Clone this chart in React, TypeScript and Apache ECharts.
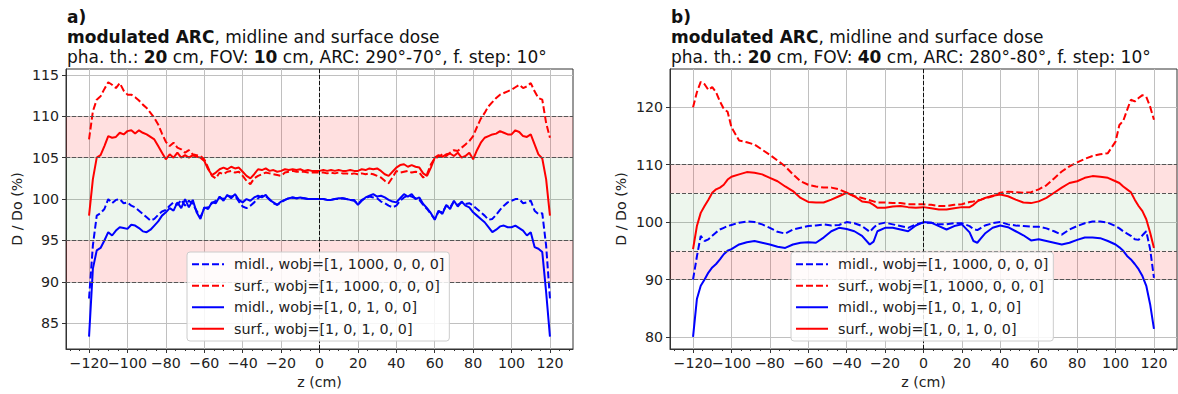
import React, { useEffect, useRef } from "react";
import * as echarts from "echarts";

const FONT = "DejaVu Sans";

// ---------- panel a) : z positions (cm) ----------
const zA = [
  -120, -118, -116, -114, -112, -110, -108, -106, -104, -102,
  -100, -98, -96, -94, -92, -90, -88, -86, -84, -82,
  -80, -78, -76, -74, -72, -70, -68, -66, -64, -62,
  -60, -58, -56, -54, -52, -50, -48, -46, -44, -42,
  -40, -38, -36, -34, -32, -30, -28, -26, -24, -22,
  -20, -18, -16, -14, -12, -10, -8, -6, -4, -2,
  0, 2, 4, 6, 8, 10, 12, 14, 16, 18,
  20, 22, 24, 26, 28, 30, 32, 34, 36, 38,
  40, 42, 44, 46, 48, 50, 52, 54, 56, 58,
  60, 62, 64, 66, 68, 70, 72, 74, 76, 78,
  80, 82, 84, 86, 88, 90, 92, 94, 96, 98,
  100, 102, 104, 106, 108, 110, 112, 114, 116, 118,
  120,
];

// midl., wobj=[1, 1000, 0, 0, 0]
const midDashA = [
  88.0, 94.4, 98.0, 98.3, 98.8, 100.0, 99.5, 99.9, 100.0, 99.5,
  99.6, 99.2, 99.0, 98.6, 98.2, 97.8, 97.4, 97.6, 98.1, 98.5,
  98.7, 99.2, 99.6, 99.3, 99.9, 99.2, 99.8, 99.4, 98.6, 97.8,
  98.9, 99.0, 99.5, 99.8, 100.2, 100.0, 100.4, 100.3, 100.4, 99.7,
  99.1, 98.9, 99.2, 99.6, 100.1, 100.4, 100.3, 100.0, 99.5, 99.3,
  99.6, 99.9, 100.1, 100.2, 100.1, 100.1, 100.1, 100.0, 100.0, 100.0,
  100.0, 100.0, 99.9, 99.9, 100.0, 100.0, 100.1, 100.0, 99.9, 99.8,
  99.4, 99.9, 100.1, 100.3, 100.2, 100.1, 99.7, 99.5, 99.2, 99.0,
  99.2, 99.8, 100.2, 100.4, 100.3, 100.1, 99.9, 99.3, 98.8, 98.2,
  97.6, 98.5, 98.4, 99.2, 99.0, 99.7, 99.3, 99.6, 99.4, 99.5,
  99.2, 98.8, 98.4, 98.0, 97.5, 97.6, 98.1, 98.7, 99.2, 99.6,
  99.8, 100.0, 100.0, 99.5, 99.6, 99.8, 98.6, 98.2, 98.3, 94.4,
  88.0,
];

// surf., wobj=[1, 1000, 0, 0, 0]
const surfDashA = [
  107.2, 110.6, 112.0, 112.4, 113.3, 114.1, 113.8, 113.4, 114.0, 113.1,
  112.6, 112.6, 112.3, 111.9, 111.4, 111.0, 110.4, 109.8, 109.0, 107.9,
  106.9, 106.4, 106.8, 106.2, 106.0, 105.6, 105.9, 105.4, 105.3, 105.2,
  104.8, 103.8, 102.8, 102.5, 103.2, 103.0, 103.3, 103.4, 103.2, 103.3,
  102.8, 102.2, 101.8, 102.5, 102.8, 103.0, 103.2, 103.1, 103.0, 102.9,
  102.8, 103.2, 103.3, 103.4, 103.3, 103.3, 103.3, 103.2, 103.2, 103.2,
  103.2, 103.2, 103.1, 103.2, 103.1, 103.2, 103.1, 103.1, 103.0, 103.1,
  103.0, 103.1, 103.0, 103.1, 103.0, 102.8, 102.6, 102.2, 101.9, 102.6,
  103.4, 103.2, 103.3, 103.4, 103.2, 103.3, 103.2, 102.6, 103.0, 104.2,
  104.9, 105.1, 105.4, 105.2, 105.6, 105.9, 105.8, 106.2, 106.6, 107.0,
  107.6, 108.7, 109.7, 110.4, 111.2, 111.7, 112.2, 112.6, 112.8, 113.0,
  113.2, 113.5, 113.8, 113.4, 113.6, 114.0, 113.0, 112.2, 112.0, 109.2,
  107.4,
];

// midl., wobj=[1, 0, 1, 0, 0]
const midSolidA = [
  83.4, 91.6, 93.8, 94.1, 95.0, 96.0, 95.6, 96.2, 96.6, 96.5,
  96.4, 96.9, 96.8, 96.5, 96.1, 96.0, 96.3, 96.8, 97.3, 98.0,
  98.4, 98.9, 98.6, 99.6, 98.9, 100.0, 99.0, 99.9, 98.4, 97.6,
  99.0, 98.8, 99.6, 99.5, 100.3, 99.8, 100.5, 100.1, 100.6, 99.9,
  99.6, 100.0, 99.8, 100.2, 100.4, 100.2, 100.5, 99.9, 99.6, 99.3,
  99.7, 99.9, 100.1, 100.2, 100.1, 100.2, 100.1, 100.0, 100.0, 100.0,
  100.0, 100.0, 99.9, 99.9, 100.0, 100.1, 100.1, 100.0, 99.9, 99.9,
  99.3, 99.8, 100.2, 100.4, 100.6, 100.3, 100.4, 100.2, 99.9, 99.7,
  99.6, 100.1, 100.6, 100.3, 100.6, 100.0, 100.2, 99.4, 98.9, 98.3,
  97.5, 98.6, 98.2, 99.3, 98.8, 99.8, 99.1, 99.7, 99.2, 99.0,
  98.4, 98.0, 97.6, 97.2, 96.6, 96.0, 96.3, 96.7, 96.8, 96.6,
  96.6, 96.8, 96.5, 96.2, 95.6, 96.0, 94.2, 94.0, 93.6, 88.8,
  83.4,
];

// surf., wobj=[1, 0, 1, 0, 0]
const surfSolidA = [
  98.0, 102.4, 105.0, 105.3, 106.4, 107.6, 107.4, 107.5, 108.0, 107.8,
  108.2, 108.3, 107.9, 108.3, 108.0, 107.8, 107.5, 107.2, 106.4, 105.6,
  104.8, 105.4, 105.0, 105.6, 105.0, 105.3, 105.0, 105.3, 105.1, 105.0,
  104.6, 103.6, 102.9, 103.2, 103.6, 103.8, 103.6, 103.9, 103.7, 103.8,
  103.3, 102.8, 102.5, 103.0, 103.6, 103.5, 103.7, 103.4, 103.5, 103.3,
  103.4, 103.6, 103.5, 103.6, 103.5, 103.6, 103.4, 103.5, 103.4, 103.4,
  103.4, 103.5, 103.4, 103.5, 103.4, 103.5, 103.4, 103.4, 103.5, 103.4,
  103.4, 103.6, 103.5, 103.7, 103.6, 103.7, 103.4, 103.0, 102.8, 103.3,
  103.8, 104.1, 104.2, 103.9, 104.1, 103.9, 103.8, 103.1, 102.8, 103.8,
  105.0, 105.3, 105.1, 105.4, 105.5, 105.2, 105.6, 105.0, 105.2, 105.6,
  104.8, 105.9, 106.8, 107.4, 107.6, 107.8, 107.9, 108.2, 108.0, 107.8,
  107.8, 108.3, 108.1, 107.6, 107.5, 107.8, 106.6, 105.4, 104.9, 102.4,
  98.0,
];

// ---------- panel b) : z positions (cm) ----------
const zB = [
  -120, -118, -116, -114, -112, -110, -108, -106, -104, -102,
  -100, -96, -92, -88, -84, -80, -76, -72, -68, -64,
  -60, -56, -52, -48, -44, -40, -36, -32, -28, -26,
  -24, -20, -16, -12, -8, -4, 0, 4, 8, 12,
  16, 20, 24, 26, 28, 30, 32, 36, 40, 44,
  48, 52, 56, 60, 64, 68, 72, 76, 80, 84,
  88, 92, 96, 100, 102, 104, 106, 108, 110, 112,
  114, 116, 118, 120,
];

const midDashB = [
  90.0, 94.0, 97.6, 96.7, 97.0, 97.6, 98.2, 98.7, 99.0, 99.3,
  99.5, 99.9, 100.1, 100.0, 99.6, 99.0, 98.3, 98.0, 98.7, 99.0,
  99.3, 99.4, 99.6, 99.4, 99.5, 100.0, 99.8, 99.3, 98.3, 99.0,
  99.6, 99.9, 99.6, 99.3, 99.0, 99.6, 99.9, 99.9, 99.6, 99.6,
  99.8, 99.8, 99.3, 98.8, 98.6, 99.0, 99.4, 99.8, 100.0, 99.6,
  99.4, 99.3, 99.2, 99.2, 98.9, 98.4, 97.8, 98.7, 99.3, 99.8,
  100.1, 100.1, 99.9, 99.3, 98.9, 98.4, 98.0, 97.6, 97.0, 96.9,
  97.7, 98.4, 95.3, 90.3,
];

const surfDashB = [
  120.0, 122.6, 124.4, 124.0, 123.0, 123.5, 122.6, 121.0, 119.7, 119.2,
  116.5, 114.2, 113.9, 113.5, 112.6, 111.7, 110.7, 109.7, 108.3, 107.1,
  106.5, 106.2, 106.0, 106.0, 105.7, 105.1, 104.5, 104.2, 103.8, 103.6,
  103.4, 103.4, 103.3, 103.3, 103.1, 103.1, 103.1, 103.0, 102.8, 102.8,
  103.0, 103.1, 103.5, 103.6, 103.8, 103.9, 104.1, 104.5, 105.1, 105.3,
  105.2, 105.1, 105.2, 105.7, 106.4, 107.6, 108.8, 109.7, 110.4, 111.0,
  111.5, 111.8, 112.0, 114.0, 116.9, 117.6, 119.5, 121.3, 121.0, 121.6,
  122.1, 121.8, 120.1, 117.8,
];

const midSolidB = [
  80.0, 86.6, 88.9, 90.0, 91.2, 92.1, 92.7, 93.5, 94.4, 95.0,
  95.3, 96.1, 96.5, 96.7, 96.4, 96.1, 95.7, 95.5, 96.1, 96.4,
  96.5, 96.4, 97.3, 98.4, 99.0, 98.8, 98.4, 97.6, 96.1, 96.6,
  98.4, 99.0, 99.0, 98.7, 98.4, 99.4, 100.0, 99.9, 99.3, 98.7,
  99.3, 99.6, 98.2, 96.7, 96.4, 97.2, 98.0, 99.0, 99.4, 99.1,
  98.4, 97.7, 96.8, 97.0, 96.7, 96.4, 96.1, 96.4, 96.9, 97.3,
  97.3, 97.2, 96.7, 96.1, 95.6, 95.0, 94.1, 93.5, 92.7, 91.8,
  90.6, 88.9, 85.7, 81.4,
];

const surfSolidB = [
  95.3, 99.3, 101.6, 102.8, 103.9, 105.1, 105.7, 106.0, 106.5, 107.4,
  107.9, 108.3, 108.7, 108.6, 108.3, 107.7, 107.1, 106.2, 105.4, 104.2,
  103.5, 103.4, 103.4, 103.9, 104.5, 105.1, 104.5, 103.6, 103.4, 103.0,
  102.5, 102.5, 102.7, 102.8, 102.6, 102.5, 102.6, 102.4, 102.2, 102.2,
  102.4, 102.6, 102.6, 103.0, 103.6, 103.9, 104.2, 104.6, 104.8, 104.5,
  103.9, 103.4, 103.3, 103.6, 104.2, 105.1, 106.0, 106.8, 107.1, 107.7,
  108.0, 107.9, 107.7, 107.1, 106.8, 106.2, 105.7, 105.2, 103.9, 102.8,
  101.9, 100.5, 98.2, 95.5,
];

// ---------- ticks, ranges, bands ----------
const xTicks = [-120, -100, -80, -60, -40, -20, 0, 20, 40, 60, 80, 100, 120];
// labels are split over two overlapping axes so that none gets hidden
const xLabelsEven = [-120, -80, -40, 0, 40, 80, 120];
const xLabelsOdd = [-100, -60, -20, 20, 60, 100];
const xMinorTicks = [
  -130, -125, -120, -115, -110, -105, -100, -95, -90, -85, -80, -75, -70, -65, -60, -55,
  -50, -45, -40, -35, -30, -25, -20, -15, -10, -5, 0, 5, 10, 15, 20, 25, 30, 35, 40, 45,
  50, 55, 60, 65, 70, 75, 80, 85, 90, 95, 100, 105, 110, 115, 120, 125, 130,
];
const yTicksA = [85, 90, 95, 100, 105, 110, 115];
const yTicksB = [80, 90, 100, 110, 120];
const xRange = [-132, 132];
const yRangeA = [81.9, 115.7];
const yRangeB = [77.9, 126.65];
const redBands = [[90, 95], [105, 110]];
const greenBand = [95, 105];
const refLines = [90, 95, 105, 110];

const seriesNames = [
  "midl., wobj=[1, 1000, 0, 0, 0]",
  "surf., wobj=[1, 1000, 0, 0, 0]",
  "midl., wobj=[1, 0, 1, 0, 0]",
  "surf., wobj=[1, 0, 1, 0, 0]",
];

const titleA =
  "{b|a)}\n{b|modulated ARC}{n|, midline and surface dose}\n{n|pha. th.: }{b|20}{n| cm, FOV: }{b|10}{n| cm, ARC: 290°-70°, f. step: 10°}";
const titleB =
  "{b|b)}\n{b|modulated ARC}{n|, midline and surface dose}\n{n|pha. th.: }{b|20}{n| cm, FOV: }{b|40}{n| cm, ARC: 280°-80°, f. step: 10°}";

const fmtX = (v: number) => (v < 0 ? "\u2212" + Math.abs(v) : String(v));

function pairs(xs: number[], ys: number[]) {
  return xs.map((x, i) => [x, ys[i]]);
}

function buildOption() {
  const grids = [
    { left: 66, top: 69, width: 507, height: 281 },
    { left: 670, top: 69, width: 507, height: 281 },
  ];
  const textCol = "#222";
  const frameCol = "#333";
  const fs = 14.2;

  const xLabelStyle = {
    formatter: fmtX,
    interval: 0,
    hideOverlap: false,
    fontSize: fs,
    color: textCol,
    margin: 7,
    fontFamily: FONT,
  };

  const xAxes: any[] = [];
  const yAxes: any[] = [];
  const series: any[] = [];
  const panels = [
    { xs: zA, data: [midDashA, surfDashA, midSolidA, surfSolidA], yr: yRangeA, yt: yTicksA },
    { xs: zB, data: [midDashB, surfDashB, midSolidB, surfSolidB], yr: yRangeB, yt: yTicksB },
  ];

  panels.forEach((p, g) => {
    xAxes.push({
      type: "value",
      gridIndex: g,
      min: xRange[0],
      max: xRange[1],
      position: "bottom",
      axisLine: { show: true, onZero: false, lineStyle: { color: frameCol, width: 1 } },
      axisTick: { show: true, customValues: xTicks, length: 4, lineStyle: { color: frameCol } },
      axisLabel: { ...xLabelStyle, customValues: xLabelsEven },
      splitLine: { show: true, lineStyle: { color: "#c0c0c0", width: 1 } },
      name: "z (cm)",
      nameLocation: "middle",
      nameGap: 26,
      nameTextStyle: { fontSize: fs, color: textCol, fontFamily: FONT },
    });
    xAxes.push({
      type: "value",
      gridIndex: g,
      min: xRange[0],
      max: xRange[1],
      position: "bottom",
      axisLine: { show: false, onZero: false },
      axisTick: { show: true, customValues: xMinorTicks, length: 2, lineStyle: { color: frameCol } },
      axisLabel: { ...xLabelStyle, customValues: xLabelsOdd },
      splitLine: { show: false },
    });
    yAxes.push({
      type: "value",
      gridIndex: g,
      min: p.yr[0],
      max: p.yr[1],
      position: "left",
      axisLine: { show: true, onZero: false, lineStyle: { color: frameCol, width: 1 } },
      axisTick: { show: true, customValues: p.yt, length: 4, lineStyle: { color: frameCol } },
      axisLabel: {
        customValues: p.yt,
        interval: 0,
        hideOverlap: false,
        fontSize: fs,
        color: textCol,
        margin: 7,
        fontFamily: FONT,
      },
      splitLine: { show: true, lineStyle: { color: "#c0c0c0", width: 1 } },
      name: "D / Do (%)",
      nameLocation: "middle",
      nameGap: 42,
      nameRotate: 90,
      nameTextStyle: { fontSize: fs, color: textCol, fontFamily: FONT },
    });

    const styles = [
      { color: "#0000ff", dashed: true },
      { color: "#ff0000", dashed: true },
      { color: "#0000ff", dashed: false },
      { color: "#ff0000", dashed: false },
    ];
    // background bands + reference lines
    series.push({
      type: "line",
      name: "bands" + g,
      xAxisIndex: g * 2,
      yAxisIndex: g,
      data: [],
      silent: true,
      z: 1,
      markArea: {
        silent: true,
        data: [
          [{ yAxis: redBands[0][0], itemStyle: { color: "rgba(255,0,0,0.12)" } }, { yAxis: redBands[0][1] }],
          [{ yAxis: greenBand[0], itemStyle: { color: "rgba(0,128,0,0.07)" } }, { yAxis: greenBand[1] }],
          [{ yAxis: redBands[1][0], itemStyle: { color: "rgba(255,0,0,0.12)" } }, { yAxis: redBands[1][1] }],
        ],
      },
      markLine: {
        silent: true,
        symbol: "none",
        label: { show: false },
        data: [
          ...refLines.map((v) => ({ yAxis: v, lineStyle: { color: "#555", width: 1, type: [4, 2] } })),
          { xAxis: 0, lineStyle: { color: "#111", width: 1, type: [4, 2] } },
        ],
      },
    });
    p.data.forEach((ys, i) => {
      series.push({
        type: "line",
        name: seriesNames[i],
        xAxisIndex: g * 2,
        yAxisIndex: g,
        data: pairs(p.xs, ys),
        symbol: "none",
        showSymbol: false,
        silent: true,
        z: 3,
        lineStyle: { color: styles[i].color, width: 2, type: styles[i].dashed ? [7, 3] : "solid" },
        itemStyle: { color: styles[i].color },
      });
    });
  });

  const rich = {
    b: { fontWeight: "bold", fontSize: 17, fontFamily: FONT, color: "#111", lineHeight: 20 },
    n: { fontWeight: "normal", fontSize: 17, fontFamily: FONT, color: "#111", lineHeight: 20 },
  };

  const legendBase = {
    data: seriesNames,
    orient: "vertical",
    top: 252,
    z: 20,
    itemWidth: 32,
    itemHeight: 14,
    itemGap: 5,
    padding: [4, 5, 4, 4],
    backgroundColor: "rgba(255,255,255,0.85)",
    borderColor: "#cccccc",
    borderWidth: 1,
    borderRadius: 3,
    selectedMode: false,
    itemStyle: { color: "transparent", borderColor: "transparent", borderWidth: 0 },
    textStyle: { fontSize: 14.3, color: textCol, fontFamily: FONT, padding: [0, 0, 0, 5], lineHeight: 16.5 },
  };

  return {
    animation: false,
    backgroundColor: "#ffffff",
    title: [
      { left: 67, top: 7, padding: 0, text: titleA, textStyle: { fontWeight: "normal", rich } },
      { left: 671, top: 7, padding: 0, text: titleB, textStyle: { fontWeight: "normal", rich } },
    ],
    grid: grids.map((gr) => ({ ...gr, show: true, borderColor: frameCol, borderWidth: 1, backgroundColor: "transparent" })),
    xAxis: xAxes,
    yAxis: yAxes,
    legend: [
      { ...legendBase, left: 187 },
      { ...legendBase, left: 791 },
    ],
    series,
  };
}

export default function App() {
  const ref = useRef<HTMLDivElement>(null);
  useEffect(() => {
    if (!ref.current) return;
    const chart = echarts.init(ref.current, undefined, { renderer: "svg" });
    chart.setOption(buildOption() as any);
    return () => chart.dispose();
  }, []);
  return (
    <div
      ref={ref}
      style={{ position: "absolute", left: 0, top: 0, width: 1178, height: 394, background: "#fff" }}
    />
  );
}
